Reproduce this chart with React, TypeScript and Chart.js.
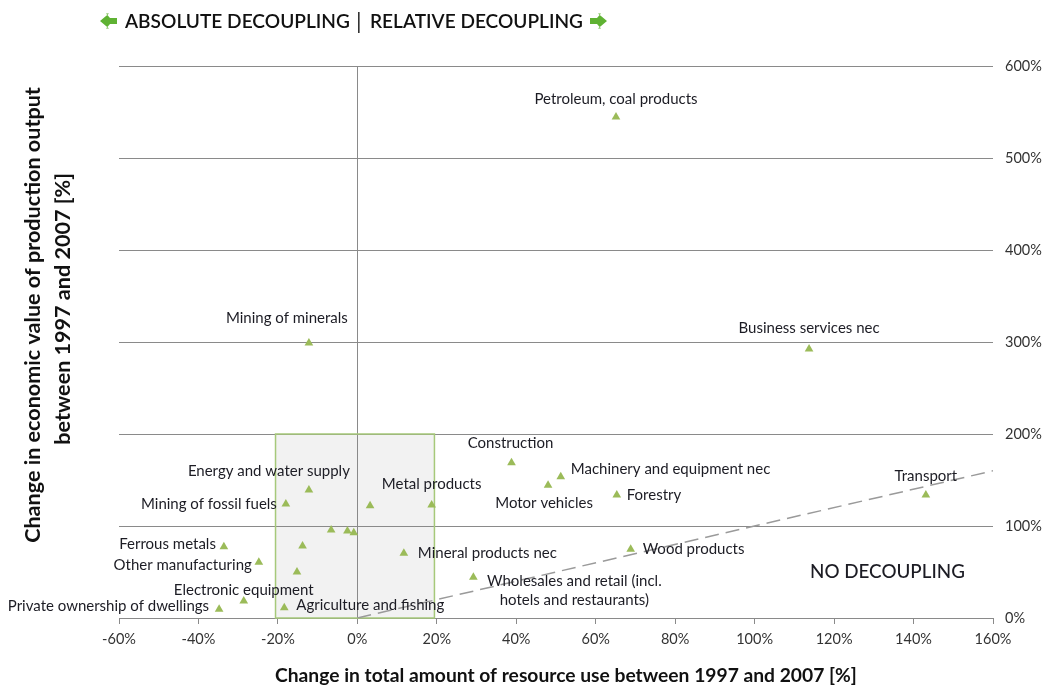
import React, { useEffect, useRef } from 'react';
import { Chart, registerables } from 'chart.js';

Chart.register(...registerables);

// ---- Data ----
const sectors = [
  'Petroleum, coal products',
  'Mining of minerals',
  'Business services nec',
  'Construction',
  'Machinery and equipment nec',
  'Motor vehicles',
  'Forestry',
  'Transport',
  'Energy and water supply',
  'Mining of fossil fuels',
  'Metal products',
  '',
  '',
  '',
  '',
  '',
  'Ferrous metals',
  'Other manufacturing',
  '',
  'Mineral products nec',
  'Wood products',
  'Wholesales and retail (incl.\nhotels and restaurants)',
  'Electronic equipment',
  'Private ownership of dwellings',
  'Agriculture and fishing',
];
const resourceUseChange = [
  65.1, -12.2, 113.7, 38.8, 51.2, 48.0, 65.3, 143.1, -12.2, -18.0, 18.7, 3.2, -6.6, -2.5, -0.9, -13.8,
  -33.6, -24.8, -15.2, 11.7, 68.8, 29.2, -28.6, -34.8, -18.4,
];
const outputValueChange = [
  544.6, 298.9, 292.4, 168.8, 153.6, 144.2, 133.7, 133.7, 139.1, 123.9, 122.8, 122.1, 95.7, 94.6, 92.7, 78.3,
  77.5, 60.5, 50.0, 70.3, 74.7, 44.2, 18.5, 9.5, 11.2,
];
const noDecouplingLine = [
  { x: 0, y: 0 },
  { x: 160, y: 160 },
];
const xRange = [-60, 160];
const yRange = [0, 600];
const focusBox = { xMin: -20.6, xMax: 19.4, yMin: 0, yMax: 200 };

// ---- Label layout (pixel offsets from each point) ----
type Place = { dx: number; dy: number; align: CanvasTextAlign };
const labelPlacement: Place[] = [
  { dx: 0, dy: -18, align: 'center' },
  { dx: -22, dy: -25, align: 'center' },
  { dx: 0, dy: -21, align: 'center' },
  { dx: -1, dy: -20, align: 'center' },
  { dx: 10, dy: -8, align: 'left' },
  { dx: -4, dy: 18, align: 'center' },
  { dx: 10, dy: 0, align: 'left' },
  { dx: 0, dy: -19, align: 'center' },
  { dx: 41, dy: -19, align: 'right' },
  { dx: -9, dy: 0, align: 'right' },
  { dx: 0, dy: -21, align: 'center' },
  { dx: 0, dy: 0, align: 'left' },
  { dx: 0, dy: 0, align: 'left' },
  { dx: 0, dy: 0, align: 'left' },
  { dx: 0, dy: 0, align: 'left' },
  { dx: 0, dy: 0, align: 'left' },
  { dx: -8, dy: -3, align: 'right' },
  { dx: -7, dy: 3, align: 'right' },
  { dx: 0, dy: 0, align: 'left' },
  { dx: 14, dy: 0, align: 'left' },
  { dx: 12, dy: 0, align: 'left' },
  { dx: 101, dy: 4, align: 'center' },
  { dx: 0, dy: -11, align: 'center' },
  { dx: -10, dy: -3, align: 'right' },
  { dx: 12, dy: -3, align: 'left' },
];

const FONT = 'Lato, "Open Sans", sans-serif';
const TEXT = '#1c1c24';
const GREEN = '#9bbb59';
const ARROW = '#5fb233';

function fitFont(ctx: CanvasRenderingContext2D, text: string, weight: string, target: number) {
  ctx.font = `${weight} 20px ${FONT}`;
  const w = ctx.measureText(text).width;
  const size = (20 * target) / w;
  return `${weight} ${size.toFixed(2)}px ${FONT}`;
}

function drawArrow(ctx: CanvasRenderingContext2D, x0: number, x1: number, y: number, dir: number) {
  // dir = -1 points left, +1 points right
  const tip = dir < 0 ? x0 : x1;
  const tail = dir < 0 ? x1 : x0;
  const headLen = 9;
  const base = tip - dir * headLen;
  ctx.save();
  ctx.fillStyle = ARROW;
  ctx.beginPath();
  ctx.moveTo(tip, y);
  ctx.lineTo(base, y - 7.5);
  ctx.lineTo(base + dir * 3, y - 7.5);
  ctx.lineTo(base - dir * 1, y - 3);
  ctx.lineTo(tail, y - 3);
  ctx.lineTo(tail, y + 3);
  ctx.lineTo(base - dir * 1, y + 3);
  ctx.lineTo(base + dir * 3, y + 7.5);
  ctx.lineTo(base, y + 7.5);
  ctx.closePath();
  ctx.fill();
  ctx.restore();
}

const overlayPlugin = {
  id: 'overlay',
  beforeDraw(chart: any) {
    const { ctx, scales } = chart;
    const x = scales.x;
    const y = scales.y;
    const l = x.getPixelForValue(focusBox.xMin);
    const r = x.getPixelForValue(focusBox.xMax);
    const t = y.getPixelForValue(focusBox.yMax);
    const b = y.getPixelForValue(focusBox.yMin);
    ctx.save();
    ctx.fillStyle = '#f2f2f2';
    ctx.fillRect(l, t, r - l, b - t);
    ctx.restore();
  },
  beforeDatasetsDraw(chart: any) {
    const { ctx, scales } = chart;
    const x = scales.x;
    const y = scales.y;
    const l = x.getPixelForValue(focusBox.xMin);
    const r = x.getPixelForValue(focusBox.xMax);
    const t = y.getPixelForValue(focusBox.yMax);
    const b = y.getPixelForValue(focusBox.yMin);
    ctx.save();
    ctx.strokeStyle = '#a6c97a';
    ctx.lineWidth = 1.5;
    ctx.strokeRect(l, t, r - l, b - t);
    ctx.restore();
  },
  afterDraw(chart: any) {
    const { ctx, scales } = chart;
    const xs = scales.x;
    const ys = scales.y;
    ctx.save();
    // point labels
    ctx.fillStyle = TEXT;
    ctx.font = `15px ${FONT}`;
    ctx.textBaseline = 'middle';
    sectors.forEach((name, i) => {
      if (!name) return;
      const p = labelPlacement[i];
      const px = xs.getPixelForValue(resourceUseChange[i]);
      const py = ys.getPixelForValue(outputValueChange[i]);
      ctx.textAlign = p.align;
      name.split('\n').forEach((line, k) => {
        ctx.fillText(line, px + p.dx, py + p.dy + k * 19);
      });
    });

    // NO DECOUPLING
    ctx.textAlign = 'left';
    ctx.font = fitFont(ctx, 'NO DECOUPLING', '500', 155);
    ctx.fillText('NO DECOUPLING', 810, 572);

    // Top header
    ctx.fillStyle = '#111';
    ctx.font = fitFont(ctx, 'ABSOLUTE DECOUPLING', '600', 225);
    ctx.fillText('ABSOLUTE DECOUPLING', 125, 22);
    ctx.font = fitFont(ctx, 'RELATIVE DECOUPLING', '600', 213);
    ctx.fillText('RELATIVE DECOUPLING', 370, 22);
    ctx.fillStyle = '#333';
    ctx.fillRect(358, 12, 1.6, 21);
    drawArrow(ctx, 100, 117, 21, -1);
    drawArrow(ctx, 590, 607, 21, 1);

    // Axis titles
    ctx.fillStyle = '#111';
    const xt = 'Change in total amount of resource use between 1997 and 2007 [%]';
    ctx.font = fitFont(ctx, xt, 'bold', 582);
    ctx.textAlign = 'left';
    ctx.fillText(xt, 275, 676);

    const y1 = 'Change in economic value of production output';
    const y2 = 'between 1997 and 2007 [%]';
    const yFont = fitFont(ctx, y1, 'bold', 456);
    ctx.save();
    ctx.translate(33, 315);
    ctx.rotate(-Math.PI / 2);
    ctx.textAlign = 'center';
    ctx.font = yFont;
    ctx.fillText(y1, 0, 0);
    ctx.restore();
    ctx.save();
    ctx.font = yFont;
    const w2 = ctx.measureText(y2).width;
    ctx.translate(63, 173 + w2 / 2);
    ctx.rotate(-Math.PI / 2);
    ctx.textAlign = 'center';
    ctx.fillText(y2, 0, 0);
    ctx.restore();

    ctx.restore();
  },
};

export default function App() {
  const ref = useRef<HTMLCanvasElement | null>(null);
  useEffect(() => {
    if (!ref.current) return;
    const points = resourceUseChange.map((x, i) => ({ x, y: outputValueChange[i] }));
    const chart = new Chart(ref.current, {
      type: 'scatter',
      data: {
        datasets: [
          {
            type: 'line',
            label: 'No decoupling',
            data: noDecouplingLine,
            borderColor: '#9a9a9a',
            borderWidth: 1.5,
            borderDash: [14, 7],
            pointRadius: 0,
            fill: false,
            order: 2,
          } as any,
          {
            label: 'Sectors',
            data: points,
            pointStyle: 'triangle',
            pointRadius: 5,
            backgroundColor: GREEN,
            borderColor: GREEN,
            borderWidth: 0,
            order: 1,
          },
        ],
      },
      options: {
        responsive: false,
        animation: false,
        layout: { padding: { left: 119, top: 66, right: 0, bottom: 0 } },
        plugins: {
          legend: { display: false },
          tooltip: { enabled: false },
          title: { display: false },
        },
        scales: {
          x: {
            type: 'linear',
            min: xRange[0],
            max: xRange[1],
            ticks: {
              stepSize: 20,
              callback: (v: any) => `${v}%`,
              color: '#333',
              font: { family: FONT, size: 14.5 },
              padding: 7,
              maxRotation: 0,
            },
            grid: {
              color: (c: any) => (c.tick && c.tick.value === 0 ? '#8a8a8a' : 'rgba(0,0,0,0)'),
              tickColor: '#8a8a8a',
              tickLength: 6,
              lineWidth: 1,
            },
            border: { display: true, color: '#8a8a8a' },
            afterFit: (s: any) => {
              s.height = 68;
            },
          },
          y: {
            type: 'linear',
            position: 'right',
            min: yRange[0],
            max: yRange[1],
            ticks: {
              stepSize: 100,
              callback: (v: any) => `${v}%`,
              color: '#333',
              font: { family: FONT, size: 14.5 },
              padding: 12,
            },
            grid: { color: '#8a8a8a', drawTicks: false, lineWidth: 1 },
            border: { display: false },
            afterFit: (s: any) => {
              s.width = 52;
            },
          },
        },
      },
      plugins: [overlayPlugin],
    });
    return () => chart.destroy();
  }, []);
  return (
    <div style={{ position: 'absolute', left: 0, top: 0, width: 1045, height: 686, background: '#fff' }}>
      <canvas ref={ref} width={1045} height={686} style={{ width: 1045, height: 686, display: 'block' }} />
    </div>
  );
}
